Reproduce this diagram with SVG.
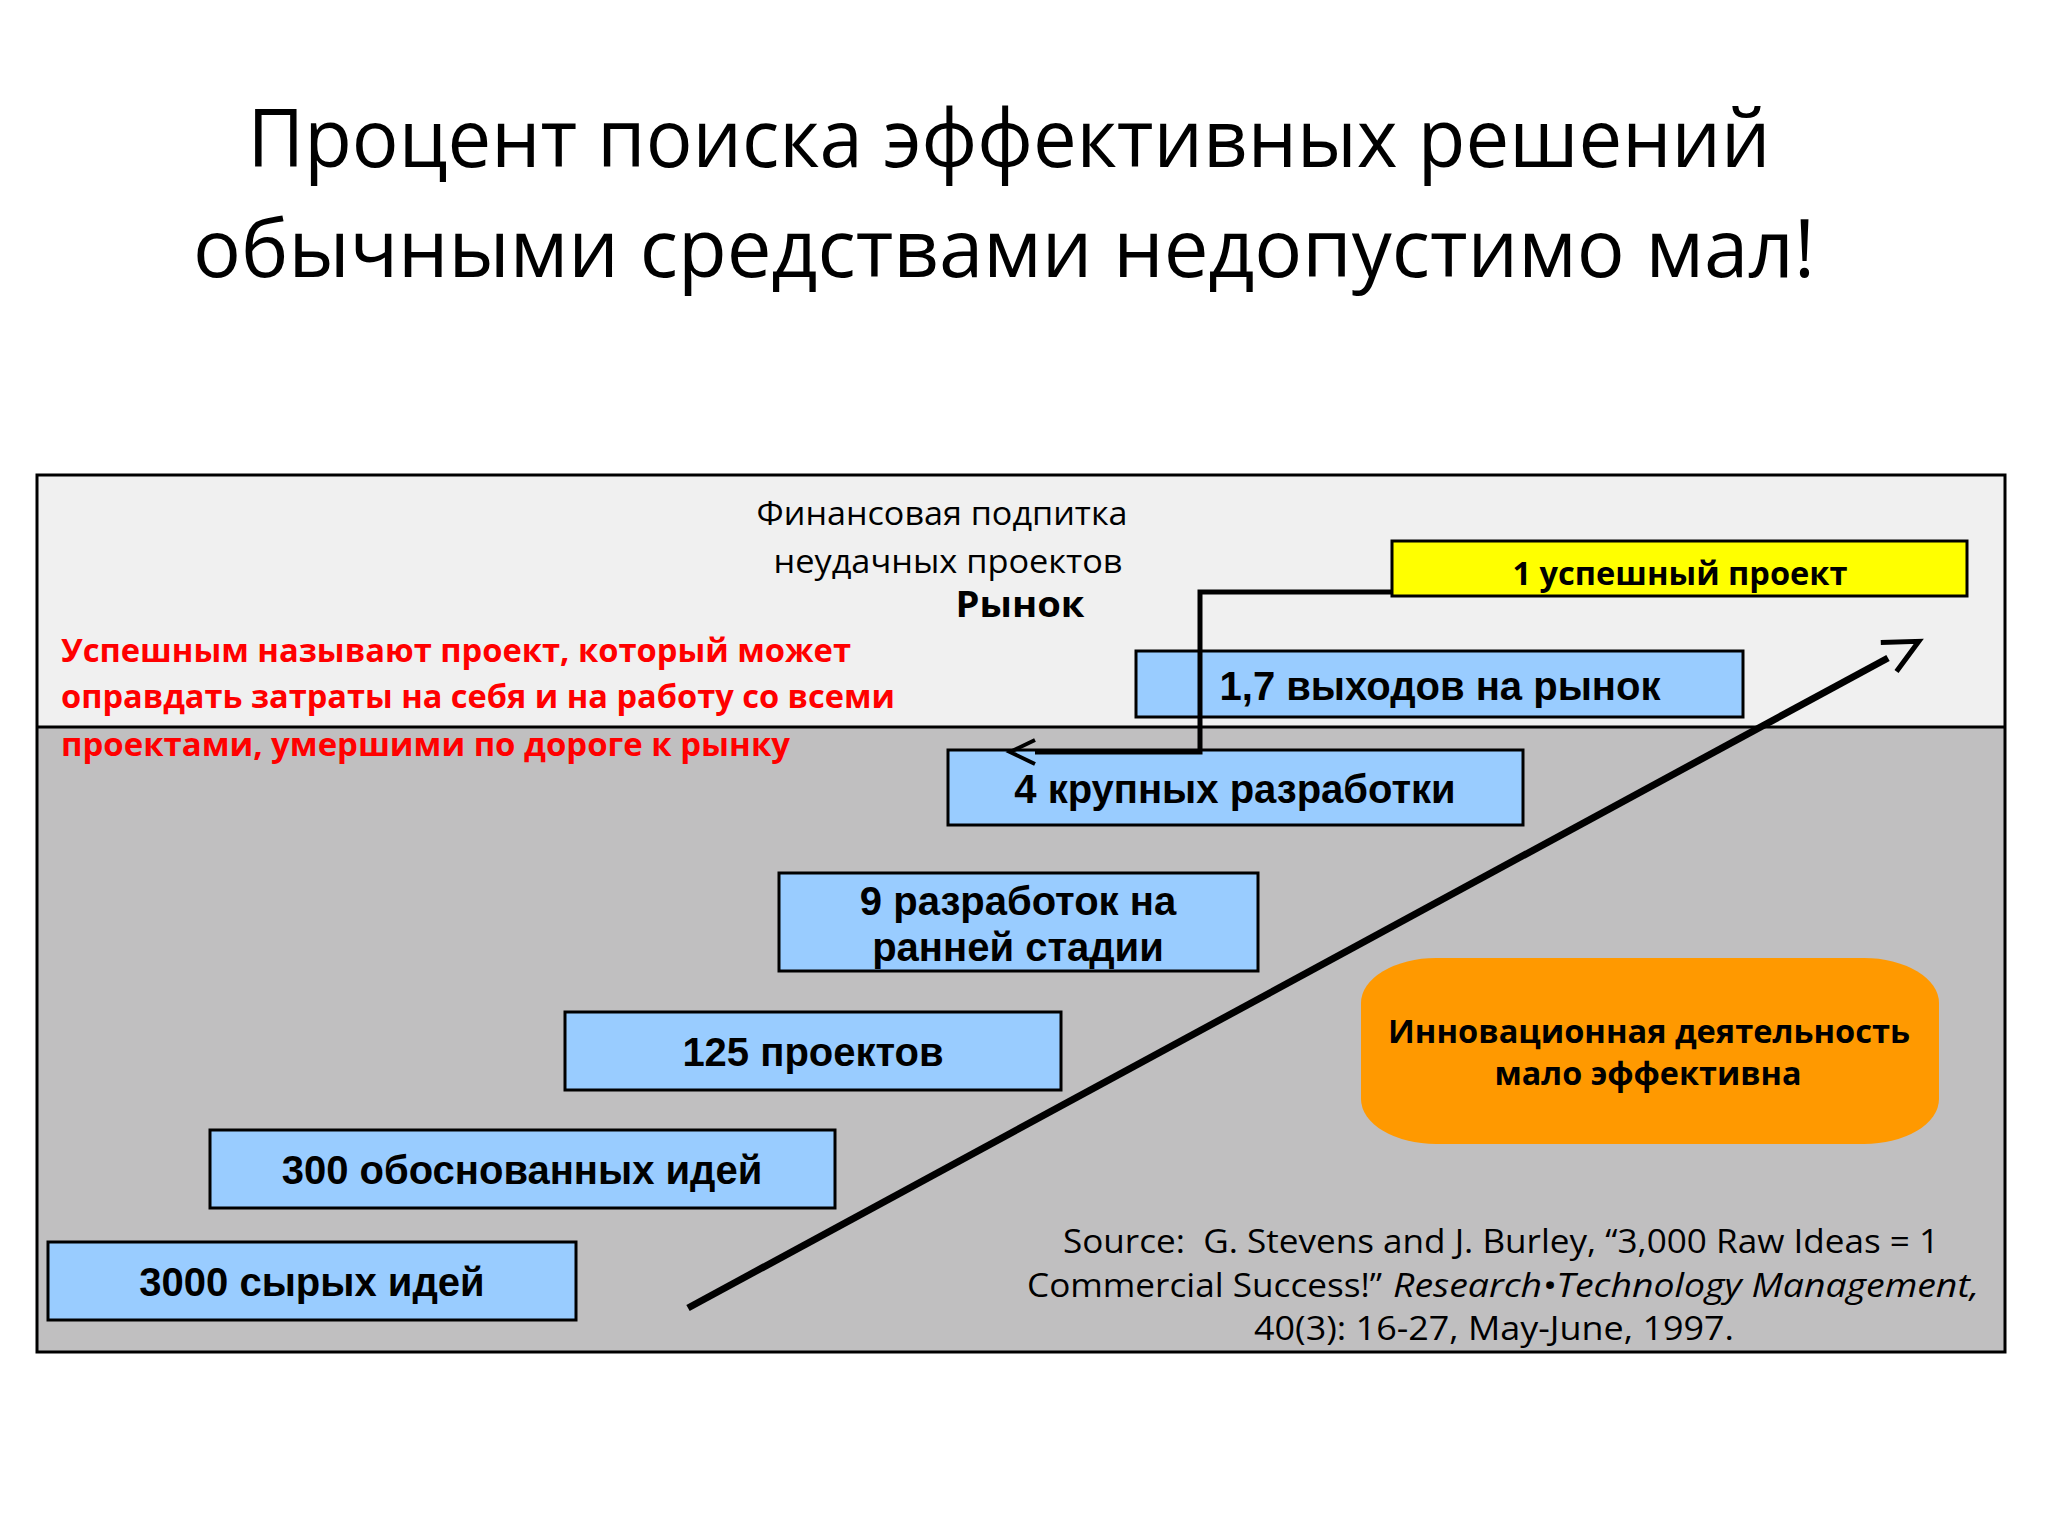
<svg xmlns="http://www.w3.org/2000/svg" width="2048" height="1536" viewBox="0 0 2048 1536">
  <style>
    .cal { font-family: "Open Sans", "Noto Sans", sans-serif; fill: #000; }
    .calb { font-family: "Open Sans", "Noto Sans", sans-serif; font-weight: bold; fill: #000; }
    .red { font-family: "Open Sans", "Noto Sans", sans-serif; font-weight: bold; fill: #ff0000; font-size: 32px; }
    .box { fill: #99ccff; stroke: #000; stroke-width: 3; }
    .boxt { font-family: "Liberation Sans", Arial, sans-serif; font-weight: bold; font-size: 40px; fill: #000; text-anchor: middle; }
    .conn { fill: none; stroke: #000; stroke-linejoin: miter; }
  </style>
  <defs>
    <marker id="chev" markerUnits="userSpaceOnUse" orient="auto" refX="0" refY="0" markerWidth="40" markerHeight="40" overflow="visible">
      <path d="M0,-12 L25,0 L0,12" fill="none" stroke="#000" stroke-width="4"/>
    </marker>
    <marker id="chev2" markerUnits="userSpaceOnUse" orient="auto" refX="0" refY="0" markerWidth="50" markerHeight="50" overflow="visible">
      <path d="M1,-17 L35,0 L1,16" fill="none" stroke="#000" stroke-width="5"/>
    </marker>
  </defs>
  <rect width="2048" height="1536" fill="#ffffff"/>

  <g id="title">
    <text class="cal" x="1009" y="167" font-size="80" text-anchor="middle" textLength="1523" lengthAdjust="spacingAndGlyphs">Процент поиска эффективных решений</text>
    <text class="cal" x="1004" y="277" font-size="80" text-anchor="middle" textLength="1622" lengthAdjust="spacingAndGlyphs">обычными средствами недопустимо мал!</text>
  </g>

  <g id="frame">
    <rect x="37" y="475" width="1968" height="252" fill="#f0f0f0"/>
    <rect x="37" y="727" width="1968" height="625" fill="#c0bfc0"/>
    <line x1="37" y1="727" x2="2005" y2="727" stroke="#000" stroke-width="3"/>
    <rect x="37" y="475" width="1968" height="877" fill="none" stroke="#000" stroke-width="3"/>
  </g>

  <g id="market-label">
    <text class="cal" x="942" y="525" font-size="32" text-anchor="middle" textLength="371" lengthAdjust="spacingAndGlyphs">Финансовая подпитка</text>
    <text class="cal" x="948" y="573" font-size="32" text-anchor="middle" textLength="349" lengthAdjust="spacingAndGlyphs">неудачных проектов</text>
    <text class="calb" x="1020" y="617" font-size="35" text-anchor="middle" textLength="129" lengthAdjust="spacingAndGlyphs">Рынок</text>
  </g>

  <g id="note">
    <text class="red" x="61" y="662" textLength="790" lengthAdjust="spacingAndGlyphs">Успешным называют проект, который может</text>
    <text class="red" x="61" y="708" textLength="834" lengthAdjust="spacingAndGlyphs">оправдать затраты на себя и на работу со всеми</text>
    <text class="red" x="61" y="756" textLength="729" lengthAdjust="spacingAndGlyphs">проектами, умершими по дороге к рынку</text>
  </g>

  <g id="n-success">
    <rect x="1392" y="541" width="575" height="55" fill="#ffff00" stroke="#000" stroke-width="3"/>
    <text class="calb" x="1680" y="585" font-size="32" text-anchor="middle" textLength="335" lengthAdjust="spacingAndGlyphs">1 успешный проект</text>
  </g>
  <g id="n-market">
    <rect class="box" x="1136" y="651" width="607" height="66"/>
    <text class="boxt" x="1440" y="700">1,7 выходов на рынок</text>
  </g>
  <g id="n-major">
    <rect class="box" x="948" y="750" width="575" height="75"/>
    <text class="boxt" x="1235" y="803">4 крупных разработки</text>
  </g>
  <g id="n-early">
    <rect class="box" x="779" y="873" width="479" height="98"/>
    <text class="boxt" x="1018" y="915">9 разработок на</text>
    <text class="boxt" x="1018" y="961">ранней стадии</text>
  </g>
  <g id="n-projects">
    <rect class="box" x="565" y="1012" width="496" height="78"/>
    <text class="boxt" x="813" y="1066">125 проектов</text>
  </g>
  <g id="n-ideas">
    <rect class="box" x="210" y="1130" width="625" height="78"/>
    <text class="boxt" x="522" y="1184">300 обоснованных идей</text>
  </g>
  <g id="n-raw">
    <rect class="box" x="48" y="1242" width="528" height="78"/>
    <text class="boxt" x="312" y="1296">3000 сырых идей</text>
  </g>

  <g id="n-conclusion">
    <rect x="1361" y="958" width="578" height="186" rx="75" ry="45" fill="#ff9900"/>
    <text class="calb" x="1649" y="1043" font-size="32" text-anchor="middle" textLength="522" lengthAdjust="spacingAndGlyphs">Инновационная деятельность</text>
    <text class="calb" x="1648" y="1085" font-size="32" text-anchor="middle" textLength="307" lengthAdjust="spacingAndGlyphs">мало эффективна</text>
  </g>

  <g id="source">
    <text class="cal" x="1063" y="1253" font-size="32" textLength="876" lengthAdjust="spacingAndGlyphs">Source:&#160; G. Stevens and J. Burley, “3,000 Raw Ideas = 1</text>
    <text class="cal" y="1297" font-size="32"><tspan x="1027" textLength="355" lengthAdjust="spacingAndGlyphs">Commercial Success!”</tspan><tspan x="1393" font-style="italic" textLength="586" lengthAdjust="spacingAndGlyphs">Research•Technology Management,</tspan></text>
    <text class="cal" x="1254" y="1340" font-size="32" textLength="480" lengthAdjust="spacingAndGlyphs">40(3): 16-27, May-June, 1997.</text>
  </g>

  <g id="connectors">
    <polyline class="conn" points="1392,592 1200,592 1200,752 1035,752" stroke-width="5" marker-end="url(#chev)"/>
    <line class="conn" x1="688" y1="1308" x2="1888" y2="658" stroke-width="7" marker-end="url(#chev2)"/>
  </g>
</svg>
